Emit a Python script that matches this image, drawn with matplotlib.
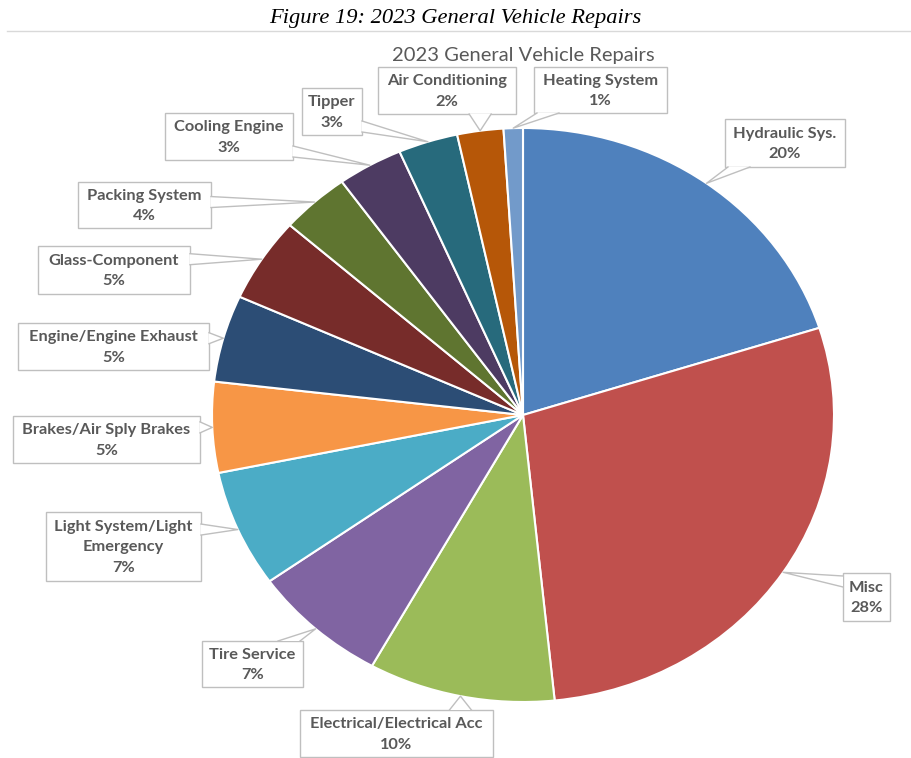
import numpy as np
import matplotlib
matplotlib.use('Agg')
import matplotlib.pyplot as plt
from matplotlib.patches import Rectangle, Polygon

categories = ['Hydraulic Sys.', 'Misc', 'Electrical/Electrical Acc', 'Tire Service',
              'Light System/Light\nEmergency', 'Brakes/Air Sply Brakes',
              'Engine/Engine Exhaust', 'Glass-Component', 'Packing System',
              'Cooling Engine', 'Tipper', 'Air Conditioning', 'Heating System']
shares = [20.1, 28.3, 9.7, 7.1, 6.6, 5.1, 4.9, 4.75, 3.6, 3.4, 3.1, 2.4, 1.0]
colors = ['#4F81BD', '#C0504D', '#9BBB59', '#8064A2', '#4BACC6', '#F79646', '#2C4D75',
          '#772C2A', '#5F7530', '#4D3B62', '#276A7C', '#B65708', '#729ACA']

# label boxes in pixels (x0, y0, x1, y1)
boxes = [(725, 119, 845, 167), (843, 573, 890, 621), (300, 710, 493, 757),
         (202, 641, 303, 687), (46, 512, 201, 581), (13, 416, 200, 463),
         (18, 323, 209, 370), (38, 246, 190, 294), (78, 182, 211, 228),
         (165, 113, 293, 160), (302, 88, 362, 135), (378, 67, 516, 114),
         (534, 67, 667, 113)]

W, H = 911, 758
cx, cy, rx, ry = 523, 415, 311, 287
grey = '#595959'
edge = '#BFBFBF'

fig = plt.figure(figsize=(W / 100, H / 100), dpi=100)
pa = fig.add_axes([(cx - rx) / W, (H - cy - ry) / H, 2 * rx / W, 2 * ry / H])
wedges, _ = pa.pie(shares, colors=colors, startangle=90, counterclock=False,
                   wedgeprops=dict(edgecolor='white', linewidth=1.5))
pa.set_aspect('auto')
pa.set_xlim(-1, 1)
pa.set_ylim(-1, 1)

ov = fig.add_axes([0, 0, 1, 1])
ov.set_xlim(0, W)
ov.set_ylim(H, 0)
ov.axis('off')

ov.text(455, 18, 'Figure 19: 2023 General Vehicle Repairs', family='Liberation Serif',
        style='italic', fontsize=16.2, ha='center', va='center')
ov.plot([7, W], [31, 31], color='#d9d9d9', lw=1)
ov.text(cx, 55, '2023 General Vehicle Repairs', family='Lato', fontsize=14.5,
        color=grey, ha='center', va='center')

total = sum(shares)
to_ov = pa.transData + ov.transData.inverted()
h = 11
for w, name, v, (x0, y0, x1, y1) in zip(wedges, categories, shares, boxes):
    mid = np.deg2rad((w.theta1 + w.theta2) / 2)
    tx, ty = to_ov.transform((np.cos(mid), np.sin(mid)))
    ov.add_patch(Rectangle((x0, y0), x1 - x0, y1 - y0, fc='white', ec=edge, lw=1, zorder=2))
    dx_out = max(x0 - tx, 0, tx - x1)
    dy_out = max(y0 - ty, 0, ty - y1)
    if dy_out >= 0.6 * dx_out:
        yb = y0 if ty < y0 else y1
        xc = np.clip(tx, x0 + h + 3, x1 - h - 3)
        b1, b2 = (xc - h, yb), (xc + h, yb)
    else:
        xb = x0 if tx < x0 else x1
        yc = np.clip(ty, y0 + h / 2 + 3, y1 - h / 2 - 3)
        b1, b2 = (xb, yc - h / 2), (xb, yc + h / 2)
    ov.add_patch(Polygon([b1, (tx, ty), b2], closed=True, fc='white', ec='none', zorder=3))
    ov.plot([b1[0], tx, b2[0]], [b1[1], ty, b2[1]], color=edge, lw=1, zorder=3)
    pct = f'{round(v / total * 100)}%'
    ov.text((x0 + x1) / 2, (y0 + y1) / 2 + 1, name + '\n' + pct, family='Lato',
            fontweight='bold', fontsize=11.8, color=grey, ha='center', va='center',
            linespacing=1.6, zorder=4)

fig.savefig('out.png', dpi=100)
